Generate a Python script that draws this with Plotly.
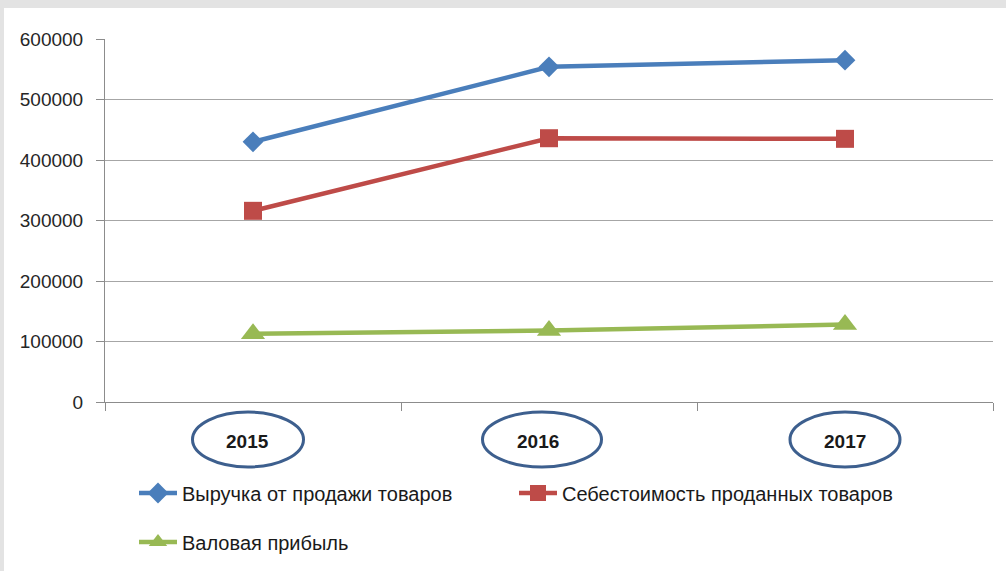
import plotly.graph_objects as go

years = ["2015", "2016", "2017"]
revenue = [430000, 554000, 565000]
cost = [316000, 436000, 435000]
profit = [113000, 118000, 128000]
y_ticks = [0, 100000, 200000, 300000, 400000, 500000, 600000]

names = ["Выручка от продажи товаров", "Себестоимость проданных товаров", "Валовая прибыль"]
colors = ["#4a7ebb", "#be4b48", "#98b954"]

FONT = "Liberation Sans, Arial, sans-serif"

fig = go.Figure()
fig.add_trace(go.Scatter(x=years, y=revenue, name=names[0], mode="lines+markers",
                         line=dict(color=colors[0], width=4.5),
                         marker=dict(symbol="diamond", size=16, color=colors[0]),
                         legend="legend"))
fig.add_trace(go.Scatter(x=years, y=cost, name=names[1], mode="lines+markers",
                         line=dict(color=colors[1], width=4.5),
                         marker=dict(symbol="square", size=18, color=colors[1]),
                         legend="legend3"))
fig.add_trace(go.Scatter(x=years, y=profit, name=names[2], mode="lines+markers",
                         line=dict(color=colors[2], width=4.5),
                         marker=dict(symbol="triangle-up", size=21, color=colors[2]),
                         legend="legend2"))

W, H = 1006, 571
L, R, T, B = 105, 13, 39, 169
pw, ph = W - L - R, H - T - B

def px_x(p):
    return (p - L) / pw

def px_y(p):
    return (H - B - p) / ph

shapes = [
    dict(type="rect", xref="paper", yref="paper", x0=px_x(-10), x1=px_x(W + 10),
         y0=px_y(8), y1=px_y(-10), fillcolor="#e3e3e3", line=dict(width=0), layer="below"),
    dict(type="rect", xref="paper", yref="paper", x0=px_x(-10), x1=px_x(4),
         y0=px_y(H + 10), y1=px_y(-10), fillcolor="#e3e3e3", line=dict(width=0), layer="below"),
]
ell = [(-5, 111), (-7, 119), (0, 110)]
lab_dx = [-6, -11, 0]
annotations = []
for i, yr in enumerate(years):
    dx, w = ell[i]
    shapes.append(dict(type="circle", xref="x", yref="paper", xsizemode="pixel", ysizemode="pixel",
                       xanchor=i, x0=dx - w / 2, x1=dx + w / 2, yanchor=0, y0=-65, y1=-10,
                       line=dict(color="#3d5f8e", width=3), fillcolor="rgba(0,0,0,0)"))
    annotations.append(dict(x=i, y=px_y(441), xref="x", yref="paper", text=yr, showarrow=False,
                            xshift=lab_dx[i], yanchor="middle",
                            font=dict(family=FONT, size=19, color="#1a1a1a", weight="bold")))

leg_font = dict(family=FONT, size=20, color="#1a1a1a")
leg_common = dict(orientation="h", xanchor="left", yanchor="middle", font=leg_font,
                  bgcolor="rgba(0,0,0,0)", itemwidth=38)

fig.update_layout(
    width=W, height=H,
    margin=dict(l=L, r=R, t=T, b=B, pad=0, autoexpand=False),
    paper_bgcolor="white", plot_bgcolor="white",
    shapes=shapes, annotations=annotations,
    xaxis=dict(type="category", range=[-0.5, 2.5], showticklabels=False,
               tickson="boundaries", ticks="outside", ticklen=8,
               tickcolor="#8c8c8c", showgrid=False, showline=True, linecolor="#8c8c8c",
               linewidth=1, zeroline=False, fixedrange=True),
    yaxis=dict(range=[0, 600000], tickmode="array", tickvals=y_ticks,
               ticktext=[str(v) for v in y_ticks], ticks="outside", ticklen=8,
               tickcolor="#8c8c8c", showgrid=True, gridcolor="#a6a6a6", gridwidth=1,
               showline=True, linecolor="#8c8c8c", zeroline=False, ticklabelstandoff=9,
               tickfont=dict(family=FONT, size=19, color="#262626"),
               fixedrange=True),
    legend=dict(x=px_x(134), y=px_y(493), **leg_common),
    legend3=dict(x=px_x(514), y=px_y(493), **leg_common),
    legend2=dict(x=px_x(134), y=px_y(542), **leg_common),
    showlegend=True,
)

fig.write_html("out.html")
